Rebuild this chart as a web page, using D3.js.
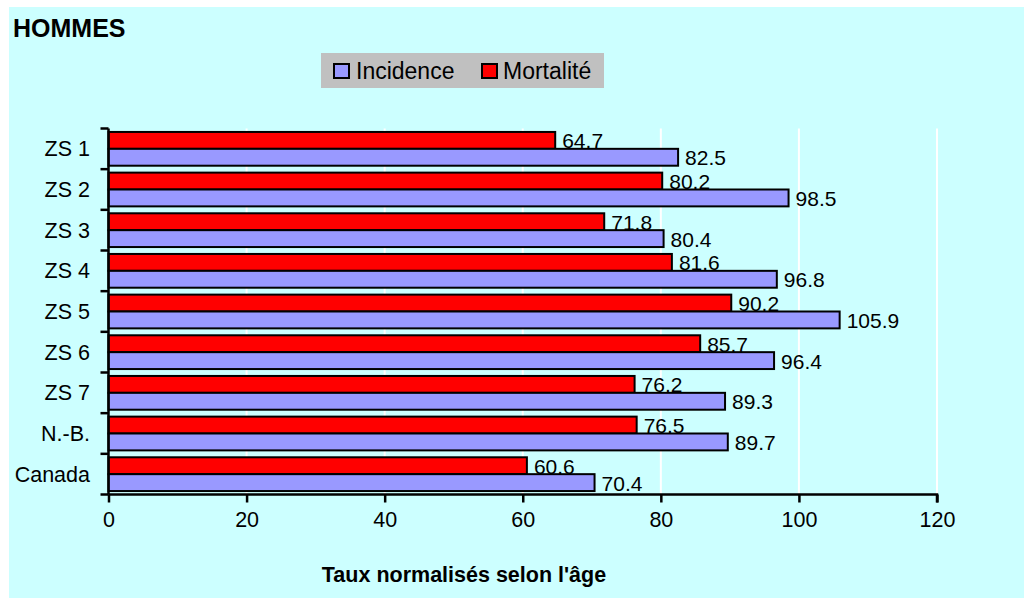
<!DOCTYPE html>
<html><head><meta charset="utf-8">
<script src="https://cdn.jsdelivr.net/npm/d3@7"></script>
<style>html,body{margin:0;padding:0;background:#fff;}svg{display:block;font-family:"Liberation Sans",Arial,sans-serif;}</style>
</head><body>
<svg id="c" width="1024" height="598"></svg>
<script>
const categories = ["ZS 1","ZS 2","ZS 3","ZS 4","ZS 5","ZS 6","ZS 7","N.-B.","Canada"];
const mortalite = [64.7,80.2,71.8,81.6,90.2,85.7,76.2,76.5,60.6];
const incidence = [82.5,98.5,80.4,96.8,105.9,96.4,89.3,89.7,70.4];
const seriesNames = ["Mortalité","Incidence"];
const xTicks = [0,20,40,60,80,100,120];
const colors = {"Incidence":"#9999FF","Mortalité":"#FF0000"};

(function(){
const svg = d3.select("#c");
svg.append("rect").attr("x",9).attr("y",7).attr("width",1015).attr("height",591).attr("fill","#CCFFFF");

const pLeft=108.5, pRight=937, pTop=128.5, pBottom=494.5;
const x = d3.scaleLinear().domain([0,120]).range([pLeft,pRight]);
const y = d3.scaleBand().domain(categories).range([pTop,pBottom]).padding(0);
const step = y.bandwidth();
const y1 = d3.scaleBand().domain(seriesNames).range([step*0.085, step*0.915]).padding(0);

// title
svg.append("text").attr("x",13).attr("y",36.5).attr("font-size",25).attr("font-weight","bold").text("HOMMES");

// legend
const lg = svg.append("g");
lg.append("rect").attr("x",321).attr("y",53).attr("width",283).attr("height",35).attr("fill","#C0C0C0");
const legendItems = [{name:"Incidence",sx:334,tx:356},{name:"Mortalité",sx:482,tx:503}];
legendItems.forEach(d=>{
  lg.append("rect").attr("x",d.sx).attr("y",64).attr("width",15).attr("height",14)
    .attr("fill",colors[d.name]).attr("stroke","#000").attr("stroke-width",2);
  lg.append("text").attr("x",d.tx).attr("y",78.5).attr("font-size",23).text(d.name);
});

// gridlines
svg.append("g").selectAll("line").data(xTicks.filter(t=>t>0)).join("line")
  .attr("x1",d=>x(d)).attr("x2",d=>x(d)).attr("y1",pTop).attr("y2",pBottom)
  .attr("stroke","#fff").attr("stroke-width",2);

// bars
const rows = categories.map((c,i)=>({cat:c, vals:[{s:"Mortalité",v:mortalite[i]},{s:"Incidence",v:incidence[i]}]}));
const g = svg.append("g");
const groups = g.selectAll("g").data(rows).join("g").attr("transform",d=>`translate(0,${y(d.cat)})`);
groups.selectAll("rect").data(d=>d.vals).join("rect")
  .attr("x",x(0)).attr("y",d=>y1(d.s)).attr("width",d=>x(d.v)-x(0)).attr("height",y1.bandwidth())
  .attr("fill",d=>colors[d.s]).attr("stroke","#000").attr("stroke-width",2);
groups.selectAll("text").data(d=>d.vals).join("text")
  .attr("x",d=>x(d.v)+7).attr("y",d=>y1(d.s)+y1.bandwidth()/2+8)
  .attr("font-size",21).text(d=>d.v.toFixed(1));

// axes
const xAxis = d3.axisBottom(x).tickValues(xTicks).tickSize(8).tickPadding(9).tickSizeOuter(8);
const xg = svg.append("g").attr("transform",`translate(0,${pBottom})`).call(xAxis);
xg.select(".domain").attr("stroke","#000").attr("stroke-width",2.5).attr("d",`M${pLeft},0H${pRight}V8`);
xg.selectAll(".tick line").attr("stroke","#000").attr("stroke-width",2.5);
xg.selectAll(".tick text").attr("font-size",21.5).attr("fill","#000").attr("font-family","Liberation Sans, Arial, sans-serif");

const yEdges = d3.range(categories.length+1).map(i=>pTop+i*step);
svg.append("g").selectAll("line").data(yEdges).join("line")
  .attr("x1",pLeft-8).attr("x2",pLeft).attr("y1",d=>d).attr("y2",d=>d)
  .attr("stroke","#000").attr("stroke-width",2.5);
svg.append("line").attr("x1",pLeft).attr("x2",pLeft).attr("y1",pTop).attr("y2",pBottom)
  .attr("stroke","#000").attr("stroke-width",2.5);
svg.append("g").selectAll("text").data(categories).join("text")
  .attr("x",90).attr("y",d=>y(d)+step/2+7.5).attr("text-anchor","end").attr("font-size",21.5).text(d=>d);

// x axis title
svg.append("text").attr("x",464).attr("y",582).attr("text-anchor","middle").attr("font-size",21.5)
  .attr("font-weight","bold").text("Taux normalisés selon l'âge");
})();
</script>
</body></html>
